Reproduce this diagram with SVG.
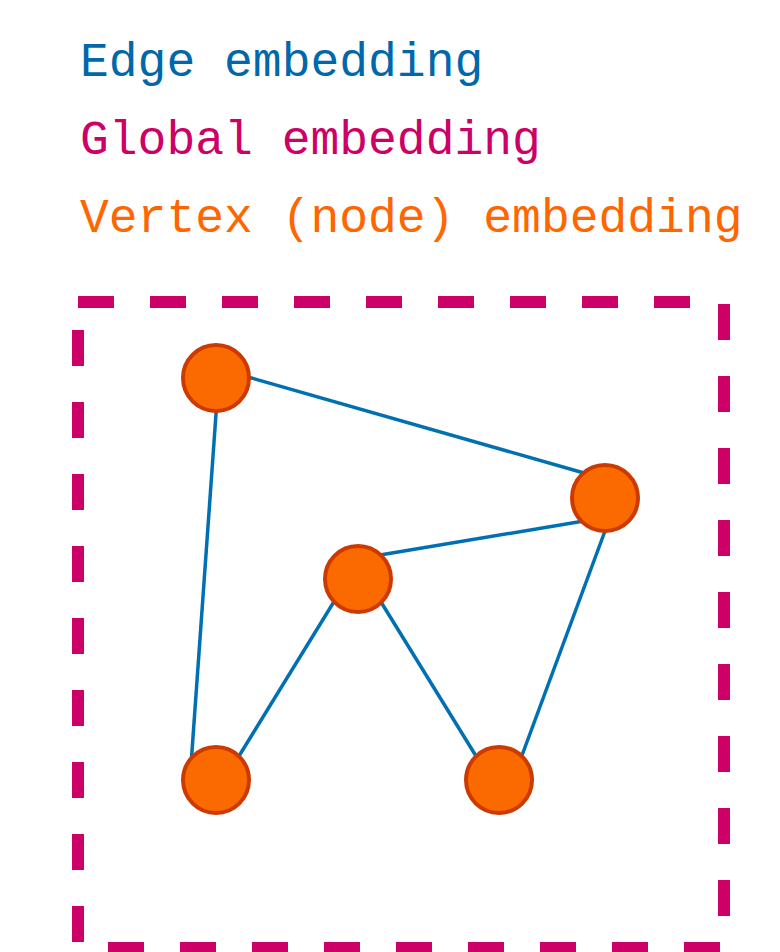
<svg xmlns="http://www.w3.org/2000/svg" width="780" height="952" viewBox="0 0 780 952">
<style>
text{font-family:"Liberation Mono","DejaVu Sans Mono",monospace;font-size:48px}
.frame{stroke:#CC0066;stroke-width:12;stroke-dasharray:36 36;fill:none}
.edge{stroke:#0070B2;stroke-width:3.5;fill:none}
.node{fill:#FA6A00;stroke:#CC3A00;stroke-width:4}
</style>
<rect width="780" height="952" fill="#fff"/>
<g id="legend">
<text x="80" y="76" fill="#0068AA">Edge embedding</text>
<text x="80" y="154" fill="#CC0066">Global embedding</text>
<text x="80" y="232" fill="#FF6600">Vertex (node) embedding</text>
</g>
<g id="global-frame">
<line class="frame" x1="78" y1="302" x2="724" y2="302"/>
<line class="frame" x1="724" y1="304" x2="724" y2="948"/>
<line class="frame" x1="720" y1="948" x2="78" y2="948"/>
<line class="frame" x1="78" y1="942" x2="78" y2="302"/>
</g>
<g id="edges">
<line class="edge" x1="248" y1="377" x2="584" y2="473"/>
<line class="edge" x1="217" y1="400" x2="191" y2="765"/>
<line class="edge" x1="380" y1="555" x2="584" y2="521"/>
<line class="edge" x1="605" y1="531" x2="521" y2="758"/>
<line class="edge" x1="335" y1="600" x2="239" y2="756"/>
<line class="edge" x1="381" y1="602" x2="476" y2="756"/>
</g>
<g id="n1"><circle class="node" cx="216" cy="378" r="33"/></g>
<g id="n2"><circle class="node" cx="605" cy="498" r="33"/></g>
<g id="n3"><circle class="node" cx="358" cy="579" r="33"/></g>
<g id="n4"><circle class="node" cx="216" cy="780" r="33"/></g>
<g id="n5"><circle class="node" cx="499" cy="780" r="33"/></g>
</svg>
